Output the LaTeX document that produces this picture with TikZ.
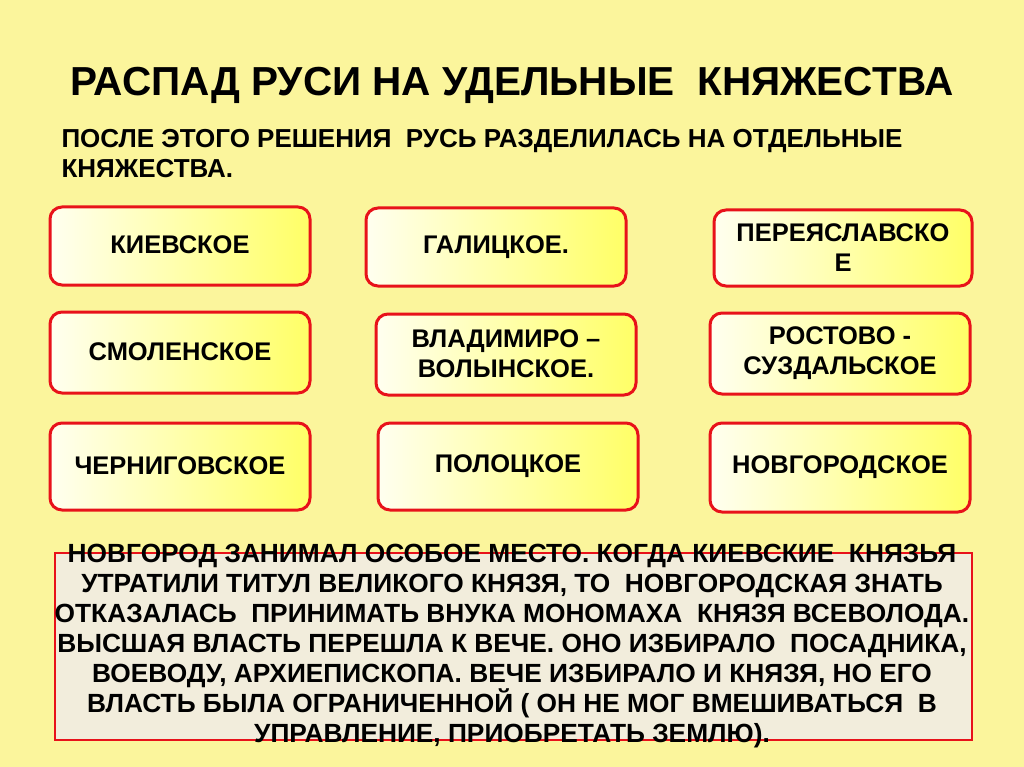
\documentclass[tikz,border=0pt]{standalone}
\usepackage{fontspec}
\setmainfont{Liberation Sans}
\definecolor{bg}{HTML}{FBF59C}
\definecolor{rd}{HTML}{E8121A}
\definecolor{beige}{HTML}{F2EDDC}
\begin{document}
\begin{tikzpicture}[x=1pt,y=-1pt,
  pbox/.style={draw=rd,line width=3pt,rounded corners=12pt,left color=yellow!6,right color=yellow!60},
  ptext/.style={font=\bfseries\fontsize{25.5}{30}\selectfont,align=center}]
\fill[bg] (0,0) rectangle (1024,767);
\useasboundingbox (0,0) rectangle (1024,767);
\node[font=\bfseries\fontsize{40.5}{44}\selectfont] (title) at (512,85) {РАСПАД РУСИ НА УДЕЛЬНЫЕ\ \ КНЯЖЕСТВА};
\node[font=\bfseries\fontsize{26}{30}\selectfont,align=left,anchor=north west] (sub) at (58,126) {ПОСЛЕ ЭТОГО РЕШЕНИЯ\ \ РУСЬ РАЗДЕЛИЛАСЬ НА ОТДЕЛЬНЫЕ\\КНЯЖЕСТВА.};
\foreach \n/\a/\b/\c/\d in {k/50/207/310/285, g/366/208/626/286, p/714/210/972/286,
  s/50/312/310/393, v/376/314/636/395, r/710/313/970/394,
  c/50/423/310/510, po/378/423/638/510, n/710/423/970/512}
  {\draw[pbox] (\a,\b) rectangle (\c,\d) coordinate (\n);}
\node[ptext] (t1) at (180,245) {КИЕВСКОЕ};
\node[ptext] (t2) at (496,247) {ГАЛИЦКОЕ.};
\node[ptext] (t3) at (843,248) {ПЕРЕЯСЛАВСКО\\Е};
\node[ptext] (t4) at (180,352) {СМОЛЕНСКОЕ};
\node[ptext] (t5) at (506,354) {ВЛАДИМИРО –\\ВОЛЫНСКОЕ.};
\node[ptext] (t6) at (840,353) {РОСТОВО -\\СУЗДАЛЬСКОЕ};
\node[ptext] (t7) at (180,466) {ЧЕРНИГОВСКОЕ};
\node[ptext] (t8) at (508,466) {ПОЛОЦКОЕ};
\node[ptext] (t9) at (840,467) {НОВГОРОДСКОЕ};
\draw[draw=rd,line width=2.5pt,fill=beige] (55,553) rectangle (972,740);
\node[font=\bfseries\fontsize{26.3}{30}\selectfont,align=center] (nov) at (512,646) {НОВГОРОД ЗАНИМАЛ ОСОБОЕ МЕСТО. КОГДА КИЕВСКИЕ\ \ КНЯЗЬЯ\\УТРАТИЛИ ТИТУЛ ВЕЛИКОГО КНЯЗЯ, ТО\ \ НОВГОРОДСКАЯ ЗНАТЬ\\ОТКАЗАЛАСЬ\ \ ПРИНИМАТЬ ВНУКА МОНОМАХА\ \ КНЯЗЯ ВСЕВОЛОДА.\\ВЫСШАЯ ВЛАСТЬ ПЕРЕШЛА К ВЕЧЕ. ОНО ИЗБИРАЛО\ \ ПОСАДНИКА,\\ВОЕВОДУ, АРХИЕПИСКОПА. ВЕЧЕ ИЗБИРАЛО И КНЯЗЯ, НО ЕГО\\ВЛАСТЬ БЫЛА ОГРАНИЧЕННОЙ ( ОН НЕ МОГ ВМЕШИВАТЬСЯ\ \ В\\УПРАВЛЕНИЕ, ПРИОБРЕТАТЬ ЗЕМЛЮ).};
\end{tikzpicture}
\end{document}
